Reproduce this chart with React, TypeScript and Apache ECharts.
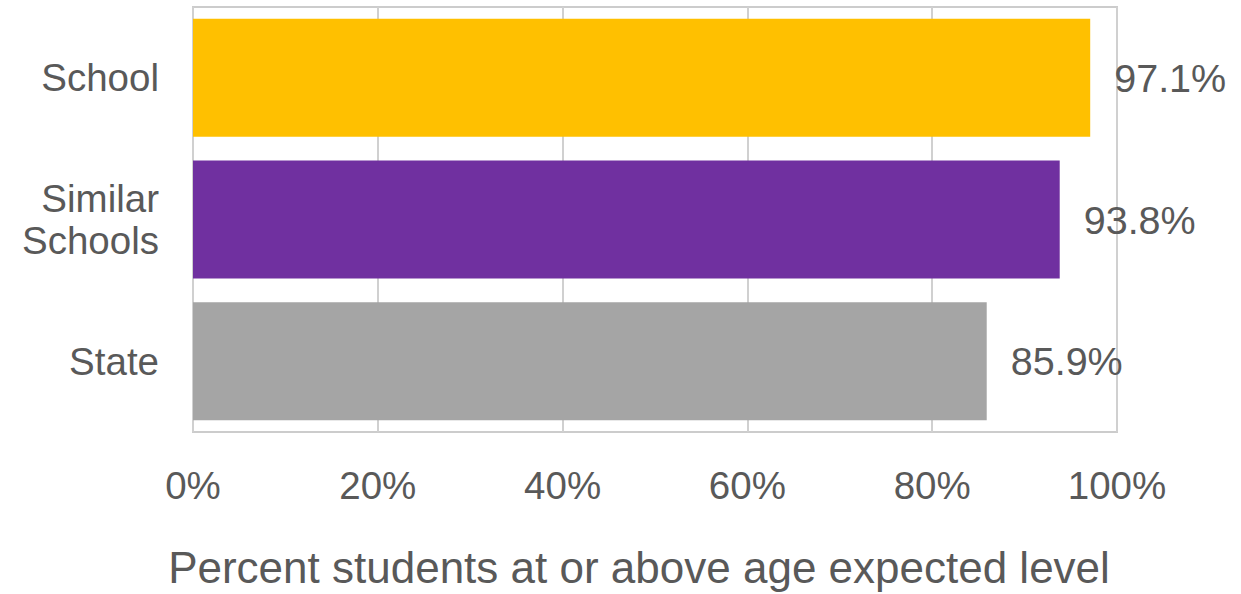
import React, { useEffect, useRef } from "react";
import * as echarts from "echarts";

const categories = ["School", "Similar\nSchools", "State"];
const values = [97.1, 93.8, 85.9];
const barColors = ["#FFC000", "#7030A0", "#A5A5A5"];
const xTicks = [0, 20, 40, 60, 80, 100];
const axisTitle = "Percent students at or above age expected level";

export default function App() {
  const ref = useRef<HTMLDivElement>(null);
  useEffect(() => {
    if (!ref.current) return;
    const chart = echarts.init(ref.current, null, { renderer: "svg" });
    const font = "'Liberation Sans', Arial, sans-serif";
    chart.setOption({
      animation: false,
      backgroundColor: "#ffffff",
      grid: { left: 193, right: 124, top: 7, bottom: 162, show: true, borderColor: "#cccccc", borderWidth: 2 },
      xAxis: {
        type: "value",
        min: 0,
        max: 100,
        interval: 20,
        axisLine: { show: false },
        axisTick: { show: false },
        splitLine: { show: true, lineStyle: { color: "#d0d0d0", width: 2 } },
        axisLabel: {
          formatter: (v: number) => (xTicks.includes(v) ? v + "%" : ""),
          color: "#595959",
          fontSize: 38.5,
          fontFamily: font,
          margin: 34,
        },
        name: axisTitle,
        nameLocation: "middle",
        nameGap: 113,
        nameTextStyle: { color: "#595959", fontSize: 44, fontFamily: font, padding: [0, 32, 0, 0] },
      },
      yAxis: {
        type: "category",
        data: categories,
        inverse: true,
        axisLine: { show: false },
        axisTick: { show: false },
        axisLabel: {
          color: "#595959",
          fontSize: 38.5,
          fontFamily: font,
          margin: 34,
          lineHeight: 42,
          align: "right",
        },
      },
      series: [
        {
          type: "bar",
          barCategoryGap: "16.7%",
          data: values.map((v, i) => ({ value: v, itemStyle: { color: barColors[i] } })),
          label: {
            show: true,
            position: "right",
            distance: 24,
            formatter: (p: any) => p.value.toFixed(1) + "%",
            color: "#595959",
            fontSize: 39.5,
            fontFamily: font,
          },
        },
      ],
    });
    return () => chart.dispose();
  }, []);
  return <div ref={ref} style={{ position: "fixed", left: 0, top: 0, width: 1241, height: 594 }} />;
}
